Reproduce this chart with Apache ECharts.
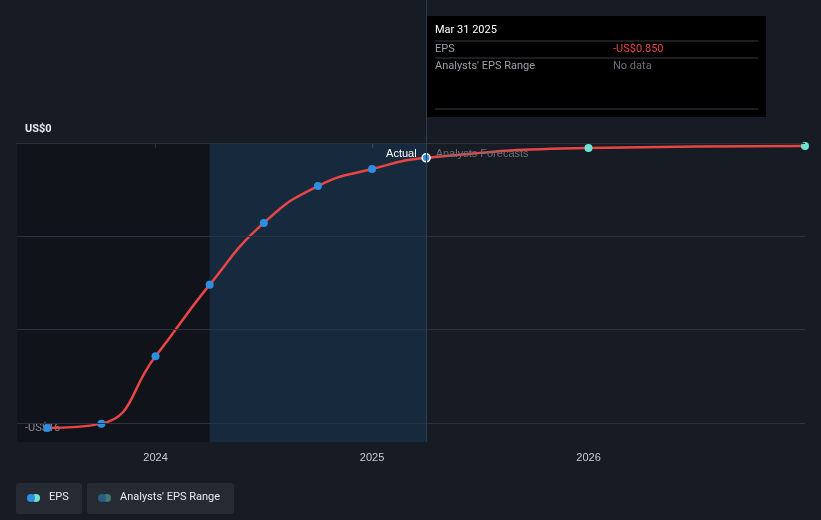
<!DOCTYPE html>
<html>
<head>
<meta charset="utf-8">
<script src="https://cdn.jsdelivr.net/npm/echarts@6/dist/echarts.min.js"></script>
<style>
html,body{margin:0;height:100%;background:#161b24;}
#main{width:821px;height:520px;}
</style>
</head>
<body>
<div id="main"></div>
<script>
// x positions as decimal years (quarter ends)
var dates = [2023.5, 2023.75, 2024.0, 2024.25, 2024.5, 2024.75, 2025.0, 2025.25, 2026.0, 2027.0];
var eps = [-16.3, -16.05, -12.2, -8.1, -4.57, -2.46, -1.49, -0.85, -0.29, -0.17];
var actualCount = 8;
var rangeDates = [2023.5, 2023.75, 2024.0, 2024.25, 2024.5, 2024.75, 2025.0];
var rangeLow = [-16.3, -15.5, -13.7, -11.1, -7.7, -4.0, -1.49];
var rangeHigh = [-16.3, -14.3, -12.0, -9.66, -5.1, -2.8, -1.49];
var yearTicks = [2024, 2025, 2026];
var gridValues = [0, -16/3, -32/3, -16];

var myChart = echarts.init(document.getElementById('main'));

var lineData = dates.map(function (d, i) {
    var past = i < actualCount;
    return {
        value: [d, eps[i]],
        itemStyle: {
            color: past ? '#2e8fe0' : '#6fe3d2',
            borderColor: i === actualCount - 1 ? '#fff' : 'transparent',
            borderWidth: i === actualCount - 1 ? 1.5 : 0
        }
    };
});

myChart.setOption({
    backgroundColor: '#161b24',
    animation: false,
    grid: {left: 17, right: 16, top: 143, bottom: 78},
    xAxis: {
        type: 'value',
        min: 2023.36,
        max: 2027.0,
        axisLine: {lineStyle: {color: '#4a4f57'}},
        axisTick: {show: true, customValues: yearTicks, lineStyle: {color: '#4a4f57'}},
        splitLine: {show: false},
        axisLabel: {
            color: '#c8ccd2', fontSize: 11, margin: 10,
            customValues: yearTicks,
            formatter: function (v) { return Math.round(v) + ''; }
        }
    },
    yAxis: {
        type: 'value', min: -17.1, max: 0,
        axisLabel: {show: false}, axisLine: {show: false}, axisTick: {show: false},
        splitLine: {show: false}
    },
    graphic: [
        {type: 'text', left: 25, top: 124, style: {text: 'US$0', fill: '#e8eaed', font: 'bold 11px Roboto'}},
        {type: 'text', left: 25, top: 423, style: {text: '-US$16', fill: '#e8eaed', font: '11px Roboto'}},
        {type: 'rect', shape: {x: 427, y: 16, width: 339, height: 101}, style: {fill: '#000'}},
        {type: 'text', left: 435, top: 25, style: {text: 'Mar 31 2025', fill: '#fff', font: '11px Roboto'}},
        {type: 'line', shape: {x1: 435, y1: 41, x2: 758, y2: 41}, style: {stroke: '#3a3d42'}},
        {type: 'text', left: 435, top: 44, style: {text: 'EPS', fill: '#9aa0a6', font: '11px Roboto'}},
        {type: 'text', left: 613, top: 44, style: {text: '-US$0.850', fill: '#e84545', font: '11px Roboto'}},
        {type: 'line', shape: {x1: 435, y1: 58, x2: 758, y2: 58}, style: {stroke: '#3a3d42'}},
        {type: 'text', left: 435, top: 61, style: {text: "Analysts' EPS Range", fill: '#9aa0a6', font: '11px Roboto'}},
        {type: 'text', left: 613, top: 61, style: {text: 'No data', fill: '#6b7078', font: '11px Roboto'}},
        {type: 'line', shape: {x1: 435, y1: 109, x2: 758, y2: 109}, style: {stroke: '#3a3d42'}},
        {type: 'rect', shape: {x: 16, y: 483, width: 66, height: 31, r: 3}, style: {fill: '#262b33'}},
        {type: 'circle', shape: {cx: 36, cy: 498, r: 4}, style: {fill: '#6fe3d2'}},
        {type: 'circle', shape: {cx: 31, cy: 498, r: 4}, style: {fill: '#2e8fe0'}},
        {type: 'text', left: 49, top: 492, style: {text: 'EPS', fill: '#e8eaed', font: '11px Roboto'}},
        {type: 'rect', shape: {x: 87, y: 483, width: 147, height: 31, r: 3}, style: {fill: '#262b33'}},
        {type: 'circle', shape: {cx: 107, cy: 498, r: 4}, style: {fill: '#3d7a74'}},
        {type: 'circle', shape: {cx: 102, cy: 498, r: 4}, style: {fill: '#2a5d85'}},
        {type: 'text', left: 120, top: 492, style: {text: "Analysts' EPS Range", fill: '#e8eaed', font: '11px Roboto'}}
    ],
    series: [
        {
            type: 'line', data: rangeDates.map(function (d, i) { return [d, rangeLow[i]]; }),
            stack: 'range', smooth: true, symbol: 'none', lineStyle: {width: 0},
            markArea: {
                silent: true,
                data: [
                    [{xAxis: 2023.36, itemStyle: {color: 'rgba(10,12,16,0.45)'}}, {xAxis: 2024.25}],
                    [{xAxis: 2024.25, itemStyle: {color: 'rgba(25,65,100,0.4)'}}, {xAxis: 2025.25}]
                ]
            },
            markLine: {
                silent: true, symbol: 'none', label: {show: false},
                lineStyle: {color: '#2c323b', type: 'solid', width: 1},
                data: gridValues.map(function (v) { return {yAxis: v}; })
            }
        },
        {
            type: 'line', data: rangeDates.map(function (d, i) { return [d, rangeHigh[i] - rangeLow[i]]; }),
            stack: 'range', smooth: true, symbol: 'none', lineStyle: {width: 0},
            areaStyle: {color: 'rgba(160,45,50,0.55)', opacity: 1}
        },
        {
            type: 'line', data: lineData, smooth: true,
            symbol: 'circle', symbolSize: 8,
            lineStyle: {color: '#e84545', width: 2.5},
            markLine: {
                silent: true, symbol: 'none',
                lineStyle: {color: '#2a3e52', type: 'solid', width: 1},
                label: {show: false},
                data: [[{coord: [2025.25, -17.1]}, {coord: [2025.25, 0], y: 0}]]
            },
            markPoint: {
                silent: true, symbol: 'rect', symbolSize: 1,
                itemStyle: {color: 'transparent'},
                data: [
                    {coord: [2025.25, -0.85], label: {show: true, position: 'left', offset: [-4, -4], formatter: 'Actual', color: '#fff', fontSize: 11}},
                    {coord: [2025.25, -0.85], label: {show: true, position: 'right', offset: [4, -4], formatter: 'Analysts Forecasts', color: '#6b7078', fontSize: 11}}
                ]
            }
        }
    ]
});
</script>
</body>
</html>
